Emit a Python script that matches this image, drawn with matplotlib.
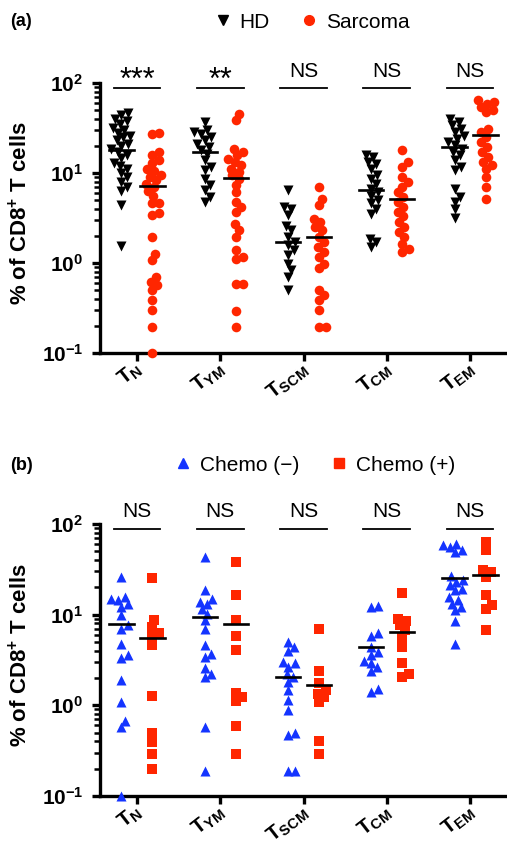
import numpy as np
import matplotlib
matplotlib.use('Agg')
import matplotlib.pyplot as plt
from matplotlib.lines import Line2D
from matplotlib.transforms import ScaledTranslation

plt.rcParams['font.family'] = ['Liberation Sans', 'DejaVu Sans']
plt.rcParams['mathtext.fontset'] = 'custom'
plt.rcParams['mathtext.rm'] = 'Liberation Sans'
plt.rcParams['mathtext.bf'] = 'Liberation Sans:bold'
plt.rcParams['mathtext.it'] = 'Liberation Sans:italic'

# ---------------- data ----------------
x_labels = [r'$\mathbf{T}_{\mathbf{N}}$', r'$\mathbf{T}_{\mathbf{YM}}$', r'$\mathbf{T}_{\mathbf{SCM}}$',
            r'$\mathbf{T}_{\mathbf{CM}}$', r'$\mathbf{T}_{\mathbf{EM}}$']
y_ticks = [0.1, 1, 10, 100]
y_tick_labels = [r'$\mathbf{10^{-1}}$', r'$\mathbf{10^{0}}$', r'$\mathbf{10^{1}}$', r'$\mathbf{10^{2}}$']

# panel (a)
hd_tn = [46, 44, 40, 38, 35, 32, 30, 28, 26, 25, 23, 21, 20, 18.5, 17, 16, 14.5, 13, 12, 11, 10, 9, 8, 7, 6.3, 4.4, 1.55]
hd_tym = [37, 30, 28.5, 27, 25, 23, 21, 19.5, 18, 16.4, 13.8, 11.7, 10.7, 8.6, 7.3, 6.4, 5.4, 4.8]
hd_tscm = [6.4, 4.2, 4.0, 3.4, 2.6, 2.3, 1.95, 1.7, 1.57, 1.38, 1.22, 0.98, 0.83, 0.70, 0.50]
hd_tcm = [15.7, 15, 13.2, 12.7, 11.2, 9.4, 8.6, 7.6, 6.7, 6.1, 5.6, 4.97, 4.6, 4.0, 3.5, 1.87, 1.71, 1.5]
hd_tem = [40, 36.9, 33.8, 31, 28.5, 26, 24, 22, 20.3, 18.6, 17, 15.7, 13.8, 11.7, 10.7, 6.7, 5.4, 4.8, 4.0, 3.2]

sar_tn = [27.5, 27, 17, 16, 14, 13, 11, 10.5, 9.5, 9, 8.3, 7.5, 7, 6.3, 5.5, 4.7, 4.6, 3.6, 3.4, 1.95, 1.27,
          1.07, 0.7, 0.62, 0.57, 0.5, 0.39, 0.30, 0.195, 0.1]
sar_tym = [45, 38.5, 18.6, 17, 15.7, 14.4, 13.2, 12.2, 11.2, 10.3, 9.4, 8.6, 7.3, 6.1, 4.8, 4.2, 3.7, 2.7, 2.3,
           1.95, 1.4, 1.16, 1.1, 0.59, 0.59, 0.29, 0.195]
sar_tscm = [7.0, 5.2, 4.4, 3.1, 2.85, 2.5, 2.3, 1.95, 1.7, 1.5, 1.33, 1.17, 0.98, 0.87, 0.50, 0.44, 0.39, 0.30,
            0.195, 0.195]
sar_tcm = [17.9, 13.2, 11.7, 9.0, 7.9, 7.0, 6.1, 5.4, 4.8, 4.2, 3.7, 3.3, 2.85, 2.5, 2.2, 1.95, 1.64, 1.44, 1.33]
sar_tem = [64, 61, 58.8, 54, 49.7, 47.6, 31, 28.5, 25, 22, 19.5, 17, 15, 13.2, 12.2, 11.2, 9.0, 7.0, 5.2]

hd_median = [18.2, 17, 1.71, 6.4, 19.5]
sar_median = [7.1, 8.9, 1.95, 5.2, 26.7]
sig_a = ['***', '**', 'NS', 'NS', 'NS']

# panel (b)
neg_tn = [26, 15.7, 15, 14.4, 13.2, 12.2, 9.8, 7.6, 7.0, 4.8, 3.6, 3.3, 1.9, 1.09, 0.68, 0.58, 0.1]
neg_tym = [43, 18.5, 15, 13.8, 13.2, 11.6, 10.3, 8.7, 7.0, 4.6, 3.7, 3.4, 2.6, 2.2, 2.05, 0.58, 0.19]
neg_tscm = [5.0, 4.4, 4.0, 3.0, 2.9, 2.65, 2.2, 2.05, 1.8, 1.46, 1.14, 0.88, 0.49, 0.47, 0.19, 0.19]
neg_tcm = [12.4, 12.1, 6.2, 5.8, 4.4, 3.9, 3.56, 3.1, 2.9, 2.65, 2.4, 1.53, 1.4]
neg_tem = [59.7, 58, 55.8, 51.3, 49.1, 26.4, 24.2, 23.1, 21.1, 19.4, 18.5, 15.6, 14.4, 13.2, 12.2, 11.2, 8.6, 4.8]

pos_tn = [25.6, 8.8, 7.4, 6.2, 5.7, 4.6, 1.26, 0.5, 0.39, 0.29, 0.2]
pos_tym = [38, 16.3, 8.8, 5.8, 4.1, 1.37, 1.23, 1.13, 0.59, 0.29]
pos_tscm = [7.0, 2.4, 1.77, 1.46, 1.34, 1.23, 1.1, 0.4, 0.29]
pos_tcm = [17.5, 9.0, 8.6, 7.6, 6.7, 5.7, 4.4, 2.9, 2.2, 2.05]
pos_tem = [63, 52, 30.8, 29.6, 26.1, 16.6, 12.7, 11.6, 6.8]

neg_median = [7.95, 9.4, 2.05, 4.36, 25.6]
pos_median = [5.5, 7.8, 1.69, 6.5, 27.6]
sig_b = ['NS', 'NS', 'NS', 'NS', 'NS']

RED = '#FF2600'
BLUE = '#1434FF'

# ---------------- figure ----------------
W, H = 507, 846
fig = plt.figure(figsize=(W / 100, H / 100), dpi=100)


def frac_axes(x0, y_top, x1, y_bot):
    return fig.add_axes([x0 / W, 1 - y_bot / H, (x1 - x0) / W, (y_bot - y_top) / H])


def swarm(ax, center, values, min_d=7.0):
    vals = np.asarray(values, float)
    disp = ax.transData.transform(np.column_stack([np.full(len(vals), center), vals]))
    cx = disp[0, 0]
    order = np.argsort(disp[:, 1])
    placed = []
    xs = np.zeros(len(vals))
    cands = [0.0]
    for k in np.arange(0.5, 40, 0.5):
        cands += [k, -k]
    for i in order:
        y = disp[i, 1]
        for dx in cands:
            ok = True
            for (px, py) in placed:
                if (px - dx) ** 2 + (py - y) ** 2 < min_d ** 2:
                    ok = False
                    break
            if ok:
                break
        placed.append((dx, y))
        xs[i] = cx + dx
    data = ax.transData.inverted().transform(np.column_stack([xs, disp[:, 1]]))
    return data[:, 0], vals


def style_axes(ax):
    ax.set_yscale('log')
    ax.set_ylim(0.1, 100)
    ax.set_xlim(-0.444, 4.444)
    for s in ['top', 'right']:
        ax.spines[s].set_visible(False)
    for s in ['left', 'bottom']:
        ax.spines[s].set_linewidth(2.4)
    ax.set_yticks(y_ticks)
    ax.set_yticklabels(y_tick_labels, fontsize=15)
    ax.yaxis.set_minor_locator(matplotlib.ticker.LogLocator(base=10, subs=np.arange(2, 10)))
    ax.yaxis.set_minor_formatter(matplotlib.ticker.NullFormatter())
    ax.tick_params(axis='y', which='major', length=6, width=2.4, pad=6)
    ax.tick_params(axis='y', which='minor', length=4, width=1.8)
    ax.set_xticks(range(5))
    ax.set_xticklabels(x_labels, fontsize=15, rotation=38, ha='right')
    ax.tick_params(axis='x', which='major', length=6, width=2.4, pad=-2)
    off = ScaledTranslation(9 / 100, 0, fig.dpi_scale_trans)
    for lab in ax.get_xticklabels():
        lab.set_transform(lab.get_transform() + off)
    ax.set_ylabel(r'% of CD8$^{\mathbf{+}}$ T cells', fontsize=16, fontweight='bold')
    ax.yaxis.set_label_coords(-0.167, 0.52)


def draw_panel(ax, g1, g2, med1, med2, sig, m1, c1, m2, c2, s1, s2):
    off = 0.186
    for i in range(5):
        x, y = swarm(ax, i - off, g1[i])
        ax.scatter(x, y, marker=m1, s=s1, color=c1, linewidths=0, zorder=3, clip_on=False)
        x, y = swarm(ax, i + off, g2[i])
        ax.scatter(x, y, marker=m2, s=s2, color=c2, linewidths=0, zorder=3, clip_on=False)
        ax.plot([i - off - 0.145, i - off + 0.145], [med1[i], med1[i]], color='black', lw=1.9, zorder=4)
        ax.plot([i + off - 0.145, i + off + 0.145], [med2[i], med2[i]], color='black', lw=1.9, zorder=4)
        ax.plot([i - 0.28, i + 0.28], [88, 88], color='black', lw=1.3, clip_on=False, zorder=4)
        if sig[i].startswith('*'):
            ax.text(i, 86, sig[i], ha='center', va='baseline', fontsize=22, clip_on=False)
        else:
            ax.text(i, 118, sig[i], ha='center', va='baseline', fontsize=15, clip_on=False)


# panel (a)
ax1 = frac_axes(100, 83, 507, 353)
style_axes(ax1)
draw_panel(ax1, [hd_tn, hd_tym, hd_tscm, hd_tcm, hd_tem], [sar_tn, sar_tym, sar_tscm, sar_tcm, sar_tem],
           hd_median, sar_median, sig_a, 'v', 'black', 'o', RED, 52, 48)

# panel (b)
ax2 = frac_axes(100, 524, 507, 796)
style_axes(ax2)
draw_panel(ax2, [neg_tn, neg_tym, neg_tscm, neg_tcm, neg_tem], [pos_tn, pos_tym, pos_tscm, pos_tcm, pos_tem],
           neg_median, pos_median, sig_b, '^', BLUE, 's', RED, 52, 44)

# panel labels
fig.text(10 / W, 1 - 22 / H, '(a)', fontsize=13, fontweight='bold', va='center', ha='left')
fig.text(10 / W, 1 - 465 / H, '(b)', fontsize=13, fontweight='bold', va='center', ha='left')

# legends
h_a = [Line2D([], [], marker='v', ls='none', color='black', markersize=7),
       Line2D([], [], marker='o', ls='none', color=RED, markersize=7)]
fig.legend(h_a, ['HD', 'Sarcoma'], loc='center', bbox_to_anchor=(312 / W, 1 - 22 / H), ncol=2,
           frameon=False, fontsize=15, handlelength=0.8, handletextpad=0.4, columnspacing=1.5)
h_b = [Line2D([], [], marker='^', ls='none', color=BLUE, markersize=6.5),
       Line2D([], [], marker='s', ls='none', color=RED, markersize=6.5)]
fig.legend(h_b, ['Chemo (\u2212)', 'Chemo (+)'], loc='center', bbox_to_anchor=(315 / W, 1 - 465 / H), ncol=2,
           frameon=False, fontsize=15, handlelength=0.8, handletextpad=0.4, columnspacing=1.5)

fig.savefig('out.png', dpi=100)
